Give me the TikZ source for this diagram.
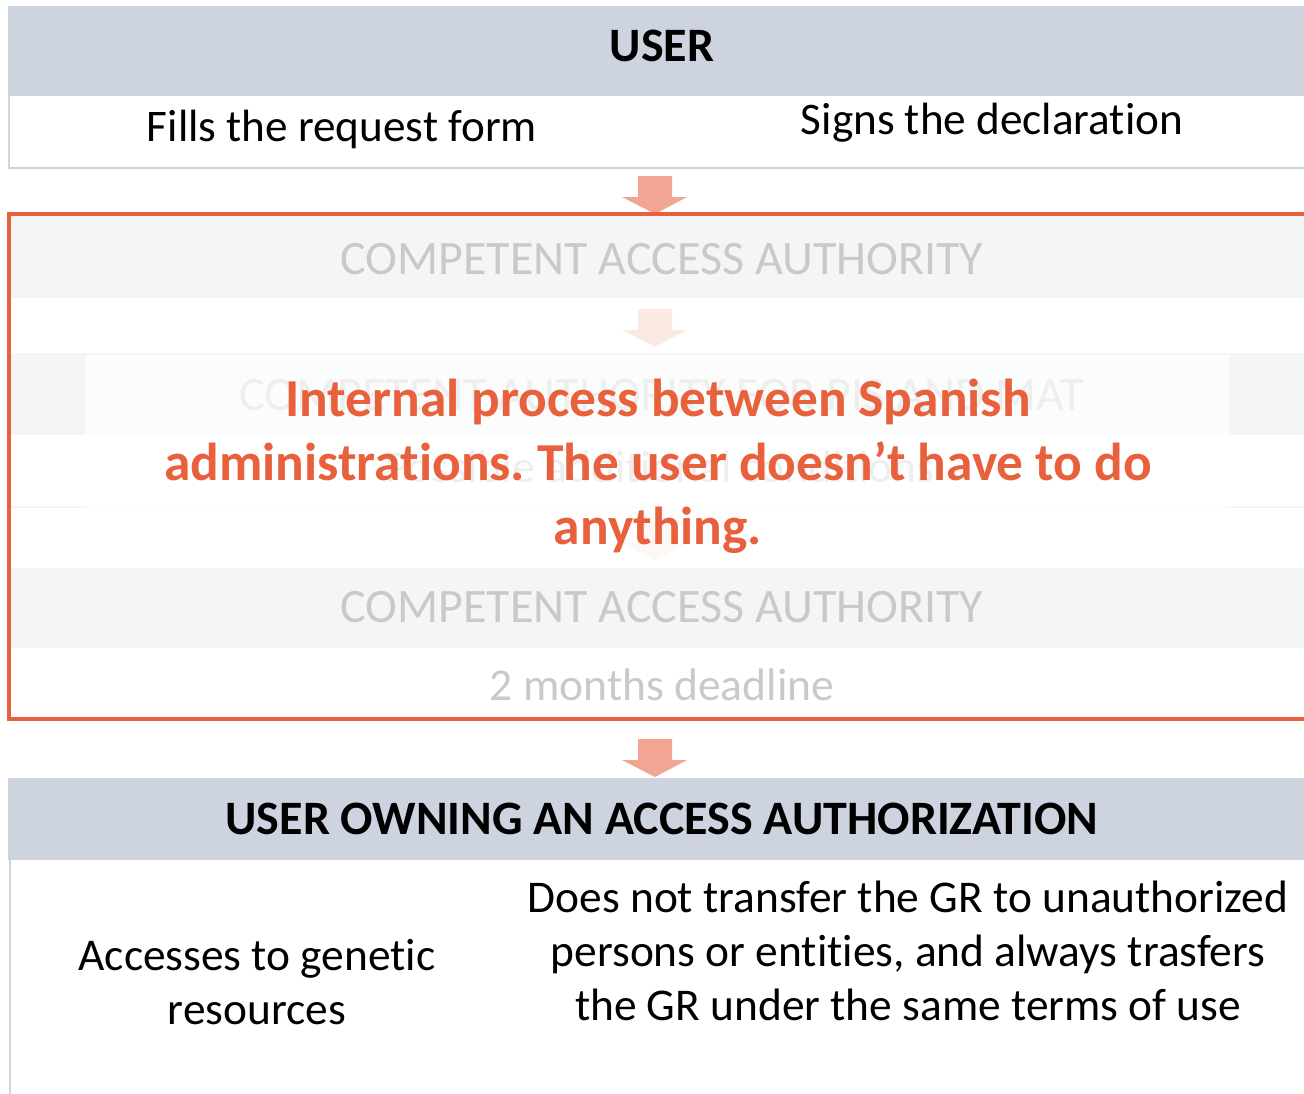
\documentclass[tikz,border=0pt]{standalone}
\usepackage{fontspec}
\setmainfont{Carlito}[Ligatures=NoCommon]
\frenchspacing
\usetikzlibrary{calc}
\definecolor{hdrfill}{HTML}{CDD3DF}
\definecolor{fadefill}{HTML}{F4F5F7}
\definecolor{fadetext}{HTML}{C9C9C9}
\definecolor{procorange}{HTML}{E8603C}
\definecolor{arrowfill}{HTML}{F2A592}
\definecolor{arrowfade}{HTML}{FBE9E4}
\newcommand{\blockarrow}[2]{\fill[#1] (#2) ++(-17,0) -- ++(34,0) -- ++(0,21) -- ++(15,0) -- ++(-32,17) -- ++(-33,-17) -- ++(16,0) -- cycle;}

\begin{document}
\begin{tikzpicture}[x=0.5pt,y=-0.5pt,
	hdr/.style={font=\fontsize{24}{28}\selectfont\bfseries},
	body/.style={font=\fontsize{22.6}{27}\selectfont, align=center, inner sep=0pt},
	faded/.style={body, text=fadetext, font=\fontsize{24}{28}\selectfont},
	note/.style={font=\fontsize{26.7}{32}\selectfont\bfseries, text=procorange, align=center, inner sep=0pt}]
	\useasboundingbox (0,0) rectangle (1304,1093);
	\clip (0,0) rectangle (1304,1093);

	% user
	\fill[hdrfill] (8,6) rectangle (1310,96);
	\draw[hdrfill, line width=1.2pt] (9,96) -- (9,168) -- (1310,168);
	\node[hdr] (user) at (662,46) {USER};
	\node[body] (fills) at (342,129) {Fills the request form};
	\node[body] (signs) at (992,123) {Signs the declaration};

	\coordinate (a1) at (655,176);
	\blockarrow{arrowfill}{a1}

	% faded process
	\fill[fadefill] (10,215) rectangle (1310,298);
	\node[faded] (caa1) at (662,259) {COMPETENT ACCESS AUTHORITY};
	\coordinate (a2) at (655,309);
	\blockarrow{arrowfade}{a2}
	\fill[fadefill] (10,353) rectangle (1310,435);
	\draw[fadefill, line width=1pt] (10,507) -- (1310,507);
	\node[faded] (capis) at (662,395) {COMPETENT AUTHORITY FOR PIS AND MAT};
	\node[faded, font=\fontsize{22.8}{27}\selectfont] (cond) at (660,467) {Possible additional conditions};
	\coordinate (a3) at (655,522);
	\blockarrow{arrowfade}{a3}
	\fill[white, opacity=0.7] (85,355) rectangle (1229,568);
	\fill[fadefill] (10,568) rectangle (1310,648);
	\node[faded] (caa2) at (662,607) {COMPETENT ACCESS AUTHORITY};
	\node[faded, font=\fontsize{22.8}{27}\selectfont] (dead) at (662,685) {2 months deadline};
	\draw[procorange, line width=1.6pt] (1310,214) -- (9,214) -- (9,719) -- (1310,719);
	\node[note] (internal) at (658,466.5) {Internal process between Spanish\\administrations. The user doesn’t have to do\\anything.};

	\coordinate (a4) at (655,739);
	\blockarrow{arrowfill}{a4}

	% authorized user
	\fill[hdrfill] (8,778) rectangle (1310,860);
	\draw[hdrfill, line width=1.2pt] (10,860) -- (10,1100);
	\node[hdr] (owner) at (662,819) {USER OWNING AN ACCESS AUTHORIZATION};
	\node[body, font=\fontsize{22.7}{27}\selectfont] (access) at (257,982) {Accesses to genetic\\resources};
	\node[body, font=\fontsize{22.7}{27}\selectfont] (transfer) at (908,951) {Does not transfer the GR to unauthorized\\persons or entities, and always trasfers\\the GR under the same terms of use};
\end{tikzpicture}
\end{document}
